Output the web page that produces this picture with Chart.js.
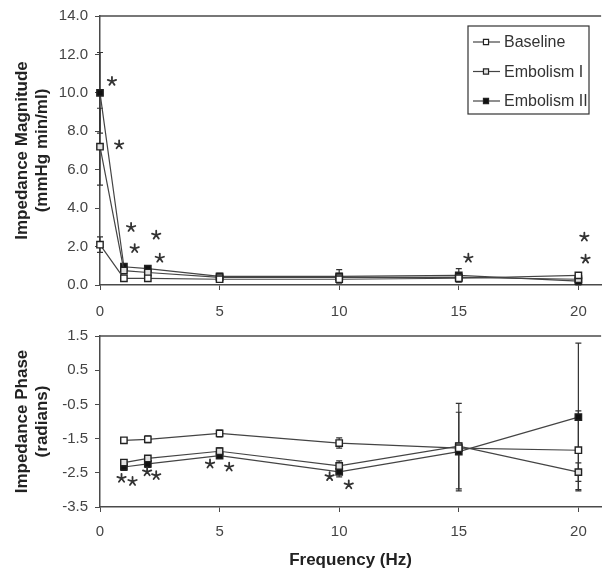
<!DOCTYPE html>
<html>
<head>
<meta charset="utf-8">
<script src="https://cdn.jsdelivr.net/npm/chart.js@4.4.0/dist/chart.umd.min.js"></script>
<style>
  body { margin: 0; background: #fff; }
  #wrap { position: relative; width: 607px; height: 574px; }
  #wrap canvas { position: absolute; left: 0; }
</style>
</head>
<body>
<div id="wrap">
  <canvas id="magChart" width="607" height="320" style="top:0"></canvas>
  <canvas id="phaseChart" width="607" height="254" style="top:320px"></canvas>
</div>
<script>
// ---- data ----
var seriesNames = ['Baseline', 'Embolism I', 'Embolism II'];

var magFreq = [0, 1, 2, 5, 10, 15, 20];
var magBaseline = [2.1, 0.35, 0.35, 0.3, 0.3, 0.35, 0.5];
var magBaselineErr = [0.4, 0.05, 0.05, 0.05, 0.1, 0.1, 0.1];
var magEmbI = [7.2, 0.75, 0.65, 0.4, 0.4, 0.4, 0.3];
var magEmbIErr = [2.0, 0.1, 0.1, 0.1, 0.2, 0.2, 0.1];
var magEmbII = [10.0, 0.95, 0.85, 0.45, 0.45, 0.5, 0.2];
var magEmbIIErr = [2.1, 0.15, 0.15, 0.15, 0.35, 0.35, 0.2];

var phaseFreq = [1, 2, 5, 10, 15, 20];
var phaseBaseline = [-1.55, -1.52, -1.35, -1.63, -1.78, -1.84];
var phaseBaselineErr = [0.05, 0.1, 0.1, 0.15, 0.15, 1.15];
var phaseEmbI = [-2.2, -2.08, -1.87, -2.3, -1.72, -2.48];
var phaseEmbIErr = [0.08, 0.08, 0.1, 0.15, 1.25, 0.27];
var phaseEmbII = [-2.33, -2.24, -2.0, -2.47, -1.88, -0.87];
var phaseEmbIIErr = [0.1, 0.1, 0.08, 0.15, 1.15, 2.16];

// significance asterisks
var magStarX = [0.5, 0.8, 1.3, 1.45, 2.35, 2.5, 15.4, 20.25, 20.3];
var magStarY = [10.6, 7.3, 3.0, 1.9, 2.6, 1.4, 1.4, 2.5, 1.35];
var phaseStarX = [0.9, 1.36, 1.97, 2.35, 4.6, 5.4, 9.6, 10.4];
var phaseStarY = [-2.66, -2.75, -2.47, -2.58, -2.24, -2.33, -2.61, -2.85];

var magTicks = { min: 0, max: 14, step: 2 };
var phaseTicks = { min: -3.5, max: 1.5, step: 1 };
var freqTicks = { min: 0, max: 20.95, step: 5 };

// ---- styling ----
var FONT = "'Liberation Sans', Arial, sans-serif";
var AXIS = '#4a4a4a';
var LINE = '#444';
var markerFill = ['#ffffff', '#e2e2e2', '#111111'];

function pairUp(xs, ys) {
    return xs.map(function(x, i) { return { x: x, y: ys[i] }; });
}

function makeDatasets(xs, values, errors) {
    return values.map(function(vals, k) {
        return {
            label: seriesNames[k],
            data: pairUp(xs, vals),
            errors: errors[k],
            borderColor: LINE,
            borderWidth: 1.2,
            pointStyle: 'rect',
            pointRadius: 4.5,
            pointBorderWidth: 1.4,
            pointBorderColor: '#222',
            pointBackgroundColor: markerFill[k],
            tension: 0,
            clip: false
        };
    });
}

// error bars, drawn under the markers
var errorBarPlugin = {
    id: 'errorBars',
    beforeDatasetsDraw: function(chart) {
        var ctx = chart.ctx, yScale = chart.scales.y;
        ctx.save();
        ctx.strokeStyle = '#333';
        ctx.lineWidth = 1.2;
        chart.data.datasets.forEach(function(ds, i) {
            var meta = chart.getDatasetMeta(i);
            meta.data.forEach(function(pt, j) {
                var v = ds.data[j].y, e = ds.errors[j];
                var top = yScale.getPixelForValue(v + e);
                var bot = yScale.getPixelForValue(v - e);
                ctx.beginPath();
                ctx.moveTo(pt.x, top); ctx.lineTo(pt.x, bot);
                ctx.moveTo(pt.x - 3, top); ctx.lineTo(pt.x + 3, top);
                ctx.moveTo(pt.x - 3, bot); ctx.lineTo(pt.x + 3, bot);
                ctx.stroke();
            });
        });
        ctx.restore();
    }
};

// asterisks placed through the chart scales
var starPlugin = {
    id: 'stars',
    afterDatasetsDraw: function(chart, args, opts) {
        if (!opts.xs) return;
        var ctx = chart.ctx;
        ctx.save();
        ctx.strokeStyle = '#333';
        ctx.lineWidth = 1.8;
        ctx.lineCap = 'round';
        opts.xs.forEach(function(xv, i) {
            var px = chart.scales.x.getPixelForValue(xv);
            var py = chart.scales.y.getPixelForValue(opts.ys[i]);
            ctx.beginPath();
            for (var a = 0; a < 5; a++) {
                var ang = -Math.PI / 2 + a * 2 * Math.PI / 5;
                ctx.moveTo(px, py);
                ctx.lineTo(px + 4.4 * Math.cos(ang), py + 4.4 * Math.sin(ang));
            }
            ctx.stroke();
        });
        ctx.restore();
    }
};

// top frame line across the plot
var frameTopPlugin = {
    id: 'frameTop',
    beforeDatasetsDraw: function(chart) {
        var ctx = chart.ctx, a = chart.chartArea;
        ctx.save();
        ctx.strokeStyle = AXIS;
        ctx.lineWidth = 1.5;
        ctx.beginPath();
        ctx.moveTo(a.left, a.top); ctx.lineTo(a.right, a.top);
        ctx.stroke();
        ctx.restore();
    }
};

// boxed legend in the upper right of the magnitude panel
var boxLegendPlugin = {
    id: 'boxLegend',
    afterDraw: function(chart) {
        var ctx = chart.ctx;
        ctx.save();
        ctx.strokeStyle = '#333';
        ctx.lineWidth = 1.2;
        ctx.strokeRect(468, 26, 121, 88);
        ctx.font = '16px ' + FONT;
        ctx.textBaseline = 'middle';
        ctx.fillStyle = '#333';
        chart.data.datasets.forEach(function(ds, i) {
            var y = 42 + i * 29.5;
            ctx.strokeStyle = LINE;
            ctx.lineWidth = 1.2;
            ctx.beginPath(); ctx.moveTo(473, y); ctx.lineTo(500, y); ctx.stroke();
            ctx.fillStyle = ds.pointBackgroundColor;
            ctx.strokeStyle = '#222';
            ctx.lineWidth = 1.2;
            Chart.helpers.drawPoint(ctx, { pointStyle: 'rect', radius: 3.6, rotation: 0, borderWidth: 1.2 }, 486, y);
            ctx.fillStyle = '#333';
            ctx.fillText(ds.label, 504, y + 1);
        });
        ctx.restore();
    }
};

function baseOptions(yTicks, yTitle, xTitle, padTop, xHeight, xPad, stars) {
    return {
        responsive: false,
        animation: false,
        layout: { padding: { top: padTop, left: 0, right: 0, bottom: 0 } },
        plugins: {
            legend: { display: false },
            tooltip: { enabled: false },
            stars: stars
        },
        scales: {
            x: {
                type: 'linear',
                min: freqTicks.min,
                max: freqTicks.max,
                border: { color: AXIS, width: 1.5 },
                grid: { drawOnChartArea: false, color: AXIS, tickLength: 5 },
                ticks: {
                    stepSize: freqTicks.step,
                    includeBounds: false,
                    color: '#444',
                    padding: xPad,
                    maxRotation: 0,
                    font: { family: FONT, size: 15 }
                },
                title: xTitle ? {
                    display: true,
                    text: xTitle,
                    color: '#222',
                    padding: { top: 0, bottom: 3 },
                    font: { family: FONT, size: 17, weight: 'bold' }
                } : { display: false },
                afterFit: function(s) { s.height = xHeight; }
            },
            y: {
                min: yTicks.min,
                max: yTicks.max,
                border: { color: AXIS, width: 1.5 },
                grid: { drawOnChartArea: false, color: AXIS, tickLength: 5 },
                ticks: {
                    stepSize: yTicks.step,
                    color: '#444',
                    padding: 7,
                    font: { family: FONT, size: 15 },
                    callback: function(v) { return Number(v).toFixed(1); }
                },
                title: {
                    display: true,
                    text: yTitle,
                    color: '#222',
                    padding: { top: 12, bottom: 0 },
                    font: { family: FONT, size: 17, weight: 'bold' }
                },
                afterFit: function(s) { s.width = 100; }
            }
        }
    };
}

new Chart(document.getElementById('magChart').getContext('2d'), {
    type: 'line',
    data: {
        datasets: makeDatasets(magFreq, [magBaseline, magEmbI, magEmbII],
                               [magBaselineErr, magEmbIErr, magEmbIIErr])
    },
    options: baseOptions(magTicks, ['Impedance Magnitude', '(mmHg min/ml)'], null, 16, 35, 13,
                         { xs: magStarX, ys: magStarY }),
    plugins: [frameTopPlugin, errorBarPlugin, starPlugin, boxLegendPlugin]
});

new Chart(document.getElementById('phaseChart').getContext('2d'), {
    type: 'line',
    data: {
        datasets: makeDatasets(phaseFreq, [phaseBaseline, phaseEmbI, phaseEmbII],
                               [phaseBaselineErr, phaseEmbIErr, phaseEmbIIErr])
    },
    options: baseOptions(phaseTicks, ['Impedance Phase', '(radians)'], 'Frequency (Hz)', 8, 67, 11,
                         { xs: phaseStarX, ys: phaseStarY }),
    plugins: [frameTopPlugin, errorBarPlugin, starPlugin]
});
</script>
</body>
</html>
